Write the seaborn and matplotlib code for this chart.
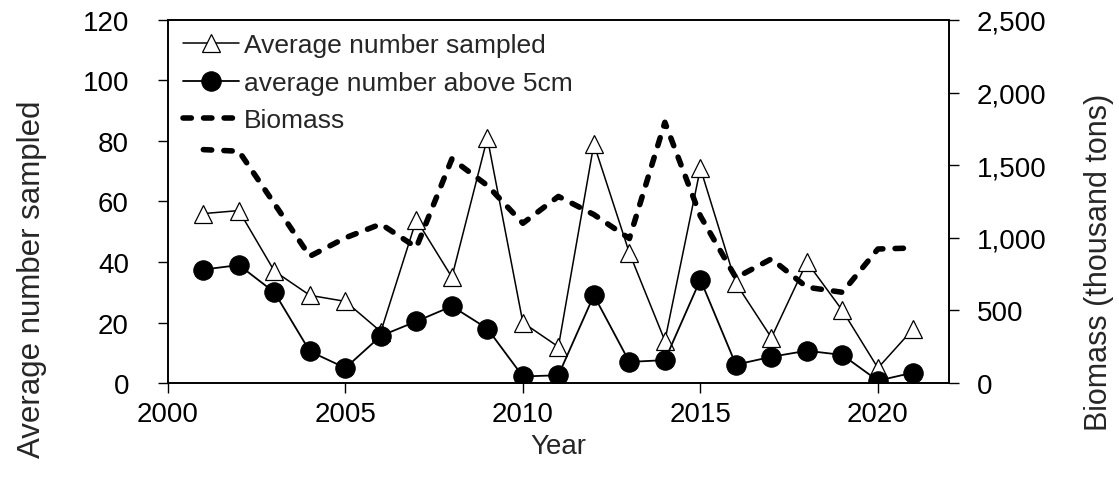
import matplotlib
matplotlib.use("Agg")
import matplotlib.pyplot as plt
import seaborn as sns
import pandas as pd
from matplotlib.ticker import FuncFormatter

# Survey years
years = list(range(2001, 2022))

# Average number of fish per sample
avg_sampled = [56, 57, 37, 29, 27, 17, 54, 35, 81, 20, 12,
               79, 43, 14, 71, 33, 15, 40, 24, 5, 18]

# Average number of fish larger than 5 cm per sample
avg_above_5cm = [37.5, 39, 30, 10.5, 5, 15.6, 20.4, 25.4, 18, 2.2, 2.6,
                 29, 7, 7.6, 34.2, 6.1, 8.7, 10.7, 9.3, 0.8, 3.5]

# Stock biomass (thousand tons)
biomass = [1607, 1596, 1235, 873, 1000, 1095, 934, 1543, 1360, 1100, 1285,
           1160, 995, 1795, 1150, 725, 855, 660, 625, 923, 930]

y_left_ticks = [0, 20, 40, 60, 80, 100, 120]
y_right_ticks = [0, 500, 1000, 1500, 2000, 2500]
x_ticks = [2000, 2005, 2010, 2015, 2020]

sns.set_theme(style="ticks")
plt.rcParams["font.family"] = ["Liberation Sans", "DejaVu Sans"]
plt.rcParams["axes.linewidth"] = 1.2
plt.rcParams["xtick.major.size"] = 7
plt.rcParams["ytick.major.size"] = 7
plt.rcParams["xtick.major.width"] = 1.0
plt.rcParams["ytick.major.width"] = 1.0

df = pd.DataFrame({"Year": years, "sampled": avg_sampled,
                   "above": avg_above_5cm, "biomass": biomass})

fig, ax = plt.subplots(figsize=(11.19, 4.85), dpi=100)
fig.subplots_adjust(left=0.150, right=0.848, bottom=0.208, top=0.957)
ax2 = ax.twinx()

sns.lineplot(data=df, x="Year", y="sampled", ax=ax, color="black",
             linewidth=1.1, marker="^", markersize=13, markerfacecolor="white",
             markeredgecolor="black", markeredgewidth=0.9,
             label="Average number sampled", legend=False)
sns.lineplot(data=df, x="Year", y="above", ax=ax, color="black",
             linewidth=1.3, marker="o", markersize=14, markerfacecolor="black",
             markeredgecolor="black", label="average number above 5cm",
             legend=False)
sns.lineplot(data=df, x="Year", y="biomass", ax=ax2, color="black",
             linewidth=4, label="Biomass", legend=False)
bio_line = ax2.get_lines()[0]
bio_line.set_dashes((1.5, 2.2))
bio_line.set_dash_capstyle("round")

ax.set_xlim(2000, 2022)
ax.set_ylim(0, 120)
ax2.set_ylim(0, 2500)
ax.set_xticks(x_ticks)
ax.set_yticks(y_left_ticks)
ax2.set_yticks(y_right_ticks)
ax2.yaxis.set_major_formatter(FuncFormatter(lambda v, p: f"{int(v):,}"))

ax.tick_params(axis="x", labelsize=20, pad=6, colors="black")
ax.tick_params(axis="y", labelsize=20, pad=21, colors="black")
ax2.tick_params(axis="y", labelsize=20, pad=13, colors="black")

ax.set_xlabel("Year", fontsize=20, labelpad=4)
ax.set_ylabel("Average number sampled", fontsize=22.5)
ax2.set_ylabel("Biomass (thousand tons)", fontsize=22)
ax.yaxis.set_label_coords(-0.155, 0.29)
ax2.yaxis.set_label_coords(1.173, 0.335)

for a in (ax, ax2):
    for s in a.spines.values():
        s.set_visible(True)
        s.set_color("black")

handles = ax.get_lines()[:2] + [bio_line]
labels = ["Average number sampled", "average number above 5cm", "Biomass"]
ax2.legend(handles, labels, loc="upper left", frameon=False, fontsize=19,
           handlelength=2.1, handletextpad=0.2, borderaxespad=0.1,
           labelspacing=0.52, bbox_to_anchor=(0.003, 1.0))

fig.savefig("out.png", dpi=100)
